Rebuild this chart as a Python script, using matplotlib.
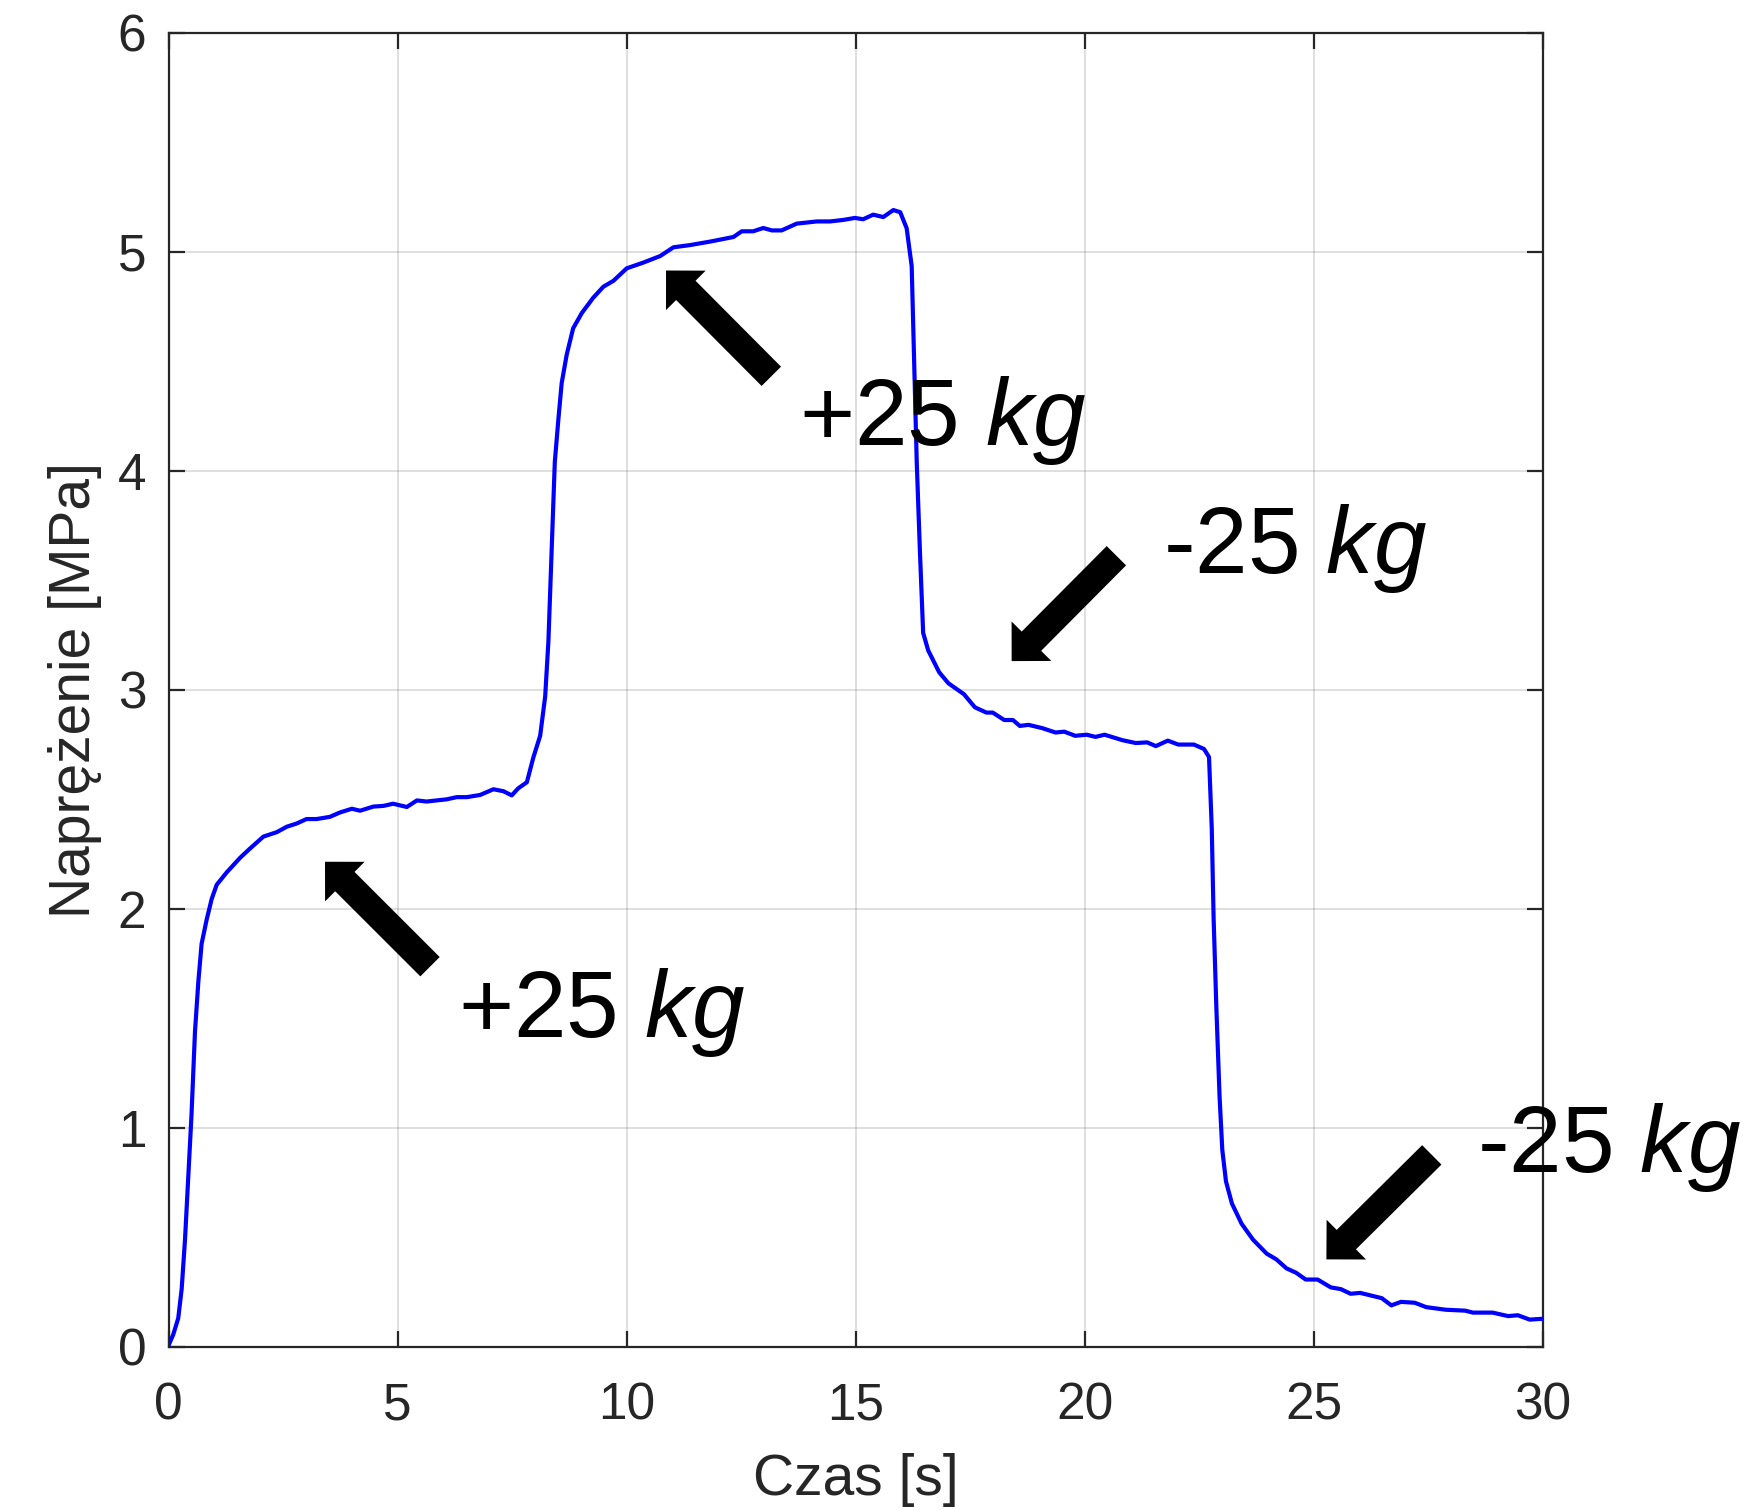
import matplotlib
matplotlib.use("Agg")
import matplotlib.pyplot as plt
from matplotlib.patches import FancyArrowPatch

plt.rcParams['font.family'] = ['Liberation Sans', 'DejaVu Sans']
plt.rcParams['mathtext.fontset'] = 'custom'
plt.rcParams['mathtext.rm'] = 'Liberation Sans'
plt.rcParams['mathtext.it'] = 'Liberation Sans:italic'

# ---- data ----
czas = [0.0, 0.1, 0.21, 0.285, 0.358, 0.43, 0.50, 0.576, 0.65, 0.72,
        0.83, 0.94, 1.05, 1.27, 1.56, 1.78, 2.07, 2.36, 2.58, 2.80,
        3.01, 3.23, 3.52, 3.74, 4.00, 4.18, 4.47, 4.69, 4.90, 5.20,
        5.42, 5.63, 5.85, 6.07, 6.29, 6.51, 6.80, 7.09, 7.31, 7.49,
        7.63, 7.82, 7.96, 8.11, 8.22, 8.29, 8.36, 8.43, 8.51, 8.58,
        8.69, 8.83, 9.02, 9.27, 9.49, 9.71, 10.0, 10.36, 10.73, 11.02,
        11.38, 11.82, 12.33, 12.51, 12.76, 12.98, 13.17, 13.38, 13.71, 14.15,
        14.44, 14.73, 14.98, 15.16, 15.38, 15.60, 15.82, 15.97, 16.11, 16.22,
        16.28, 16.33, 16.40, 16.47, 16.58, 16.82, 17.02, 17.36, 17.60, 17.85,
        17.99, 18.24, 18.43, 18.58, 18.77, 19.07, 19.36, 19.55, 19.79, 20.04,
        20.23, 20.43, 20.82, 21.11, 21.36, 21.55, 21.81, 22.04, 22.38, 22.60,
        22.71, 22.77, 22.81, 22.87, 22.94, 23.0, 23.08, 23.21, 23.42, 23.67,
        23.97, 24.18, 24.40, 24.61, 24.82, 25.08, 25.37, 25.59, 25.80, 26.01,
        26.48, 26.69, 26.90, 27.20, 27.45, 27.88, 28.30, 28.47, 28.90, 29.24,
        29.45, 29.71, 30.0]

naprezenie = [0.008, 0.056, 0.131, 0.264, 0.49, 0.776, 1.06, 1.44, 1.67, 1.84,
              1.95, 2.045, 2.11, 2.167, 2.233, 2.276, 2.33, 2.35, 2.375, 2.39,
              2.41, 2.41, 2.42, 2.44, 2.457, 2.448, 2.467, 2.47, 2.48, 2.465,
              2.495, 2.49, 2.495, 2.50, 2.51, 2.51, 2.52, 2.546, 2.537, 2.518,
              2.55, 2.578, 2.69, 2.79, 2.97, 3.22, 3.63, 4.04, 4.24, 4.40,
              4.53, 4.65, 4.72, 4.79, 4.84, 4.867, 4.924, 4.95, 4.98, 5.02,
              5.03, 5.046, 5.067, 5.093, 5.093, 5.108, 5.097, 5.097, 5.128, 5.138,
              5.138, 5.145, 5.154, 5.148, 5.169, 5.158, 5.19, 5.18, 5.107, 4.934,
              4.446, 4.04, 3.63, 3.26, 3.18, 3.08, 3.03, 2.98, 2.92, 2.896,
              2.896, 2.862, 2.862, 2.835, 2.84, 2.825, 2.805, 2.809, 2.79, 2.795,
              2.785, 2.795, 2.77, 2.757, 2.76, 2.743, 2.768, 2.75, 2.75, 2.73,
              2.693, 2.366, 1.959, 1.55, 1.144, 0.899, 0.756, 0.655, 0.563, 0.49,
              0.426, 0.40, 0.359, 0.339, 0.308, 0.308, 0.272, 0.264, 0.243, 0.247,
              0.223, 0.19, 0.206, 0.202, 0.182, 0.17, 0.166, 0.157, 0.157, 0.141,
              0.145, 0.125, 0.129]

x_ticks = [0, 5, 10, 15, 20, 25, 30]
y_ticks = [0, 1, 2, 3, 4, 5, 6]

# annotations: mass text, text position (left, baseline), arrow tip, arrow tail
labels = ['+25', '+25', '-25', '-25']
unit_label = 'kg'
label_pos = [(6.317, 1.415), (13.76, 4.119), (21.70, 3.533), (28.56, 0.799)]
arrow_tips = [(3.414, 2.215), (10.858, 4.914), (18.402, 3.131), (25.272, 0.400)]
arrow_tails = [(5.706, 1.736), (13.156, 4.431), (20.688, 3.612), (27.573, 0.877)]

# ---- figure ----
W, H = 1762, 1510
fig = plt.figure(figsize=(W / 100, H / 100), dpi=100)
ax = fig.add_axes([168.6 / W, (H - 1347) / H, 1374.4 / W, (1347 - 32.6) / H])

axis_col = '#262626'
ax.plot(czas, naprezenie, color='#0000ff', lw=3.0, zorder=3)

ax.set_xlim(0, 30)
ax.set_ylim(0, 6)
ax.set_xticks(x_ticks)
ax.set_yticks(y_ticks)
ax.grid(True, color=axis_col, alpha=0.15, lw=1.4)
ax.set_axisbelow(True)

for s in ax.spines.values():
    s.set_color(axis_col)
    s.set_linewidth(1.6)

ax.tick_params(axis='both', which='both', direction='in', length=11.3, width=1.6,
               color=axis_col, labelcolor=axis_col, labelsize=37,
               top=True, right=True)
ax.tick_params(axis='x', pad=25)
ax.tick_params(axis='y', pad=16)

ax.set_xlabel('Czas [s]', fontsize=41, color=axis_col, labelpad=16)
ax.set_ylabel('Naprężenie [MPa]', fontsize=41, color=axis_col, labelpad=11)

for lab, (tx, ty), tip, tail in zip(labels, label_pos, arrow_tips, arrow_tails):
    arr = FancyArrowPatch(posA=tail, posB=tip, transform=ax.transData,
                          arrowstyle='simple,head_length=20.2,head_width=40.3,tail_width=19.7',
                          mutation_scale=1, shrinkA=0, shrinkB=0,
                          fc='black', ec='none', lw=0, zorder=4, clip_on=False)
    ax.add_patch(arr)
    ax.text(tx, ty, lab + ' $\\mathit{' + unit_label + '}$', fontsize=68, color='black',
            ha='left', va='baseline', zorder=5, clip_on=False)

fig.savefig('out.png', dpi=100)
